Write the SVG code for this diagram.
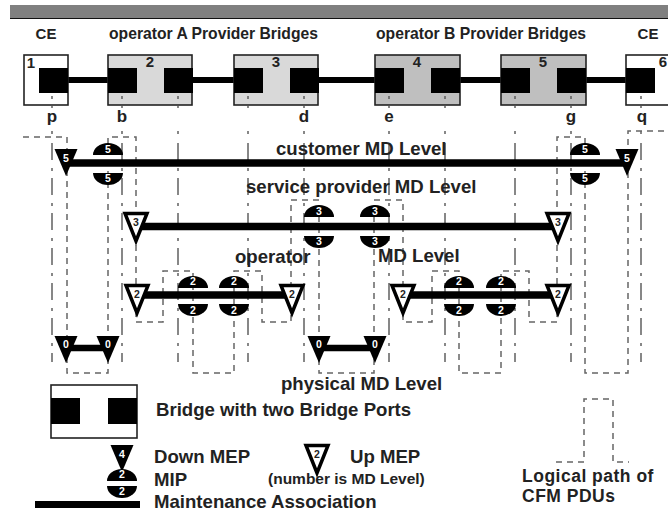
<svg xmlns="http://www.w3.org/2000/svg" width="668" height="512" viewBox="0 0 668 512">
<style>
text{font-family:"Liberation Sans",Arial,sans-serif;font-weight:bold;fill:#222}
.t{font-size:15.700px}
.l{font-size:18.600px}
.s{font-size:15.500px}
.k{font-size:17.500px;letter-spacing:.5px}
.p{font-size:17px;text-anchor:middle}
.c{font-size:15px;text-anchor:middle}
.n{font-size:10.500px;text-anchor:middle;fill:#fff}
.m{font-size:10.500px;text-anchor:middle;fill:#222}
.box{stroke:#222;stroke-width:1.6}
.w{fill:#fff}
.g1{fill:#d9d9d9}
.g2{fill:#bfbfbf}
.b{fill:#000}
.dash{fill:none;stroke:#666;stroke-width:1.5;stroke-dasharray:6 5}
.dd{fill:none;stroke:#555;stroke-width:1.4;stroke-dasharray:17 8 3 7}
.dot{fill:none;stroke:#555;stroke-width:1.4}
.ma{stroke:#000;fill:none}
.up{fill:#fff;stroke:#000;stroke-width:3.5;stroke-linejoin:miter}
</style>
<defs>
<path id="mu" d="M-15 0A15 12 0 0 1 15 0Z" fill="#000"/>
<path id="md" d="M-15 0A15 12 0 0 0 15 0Z" fill="#000"/>
<path id="dn" d="M-11.500 0H11.500L0 27Z" fill="#000"/>
<path id="un" d="M-11 1.500H11L0 29Z" class="up"/>
</defs>
<rect width="668" height="512" fill="#fff"/>
<rect x="10" y="5" width="658" height="13" fill="#808080"/>
<rect x="10" y="18" width="658" height="1" fill="#111"/>
<g id="connectors">
<path class="ma" stroke-width="6" d="M60 80H640"/>
<path class="dot" d="M52 106V108M52 131V134M122 106V108M122 131V134M178 106V108M178 131V134M248 106V108M248 131V134M304 106V108M304 131V134M389 106V108M389 131V134M445 106V108M445 131V134M515 106V108M515 131V134M571 106V108M571 131V134M641 106V108M641 131V134"/>
<path class="dd" d="M52 143V362M122 143V362M178 143V362M248 143V362M304 143V362M389 143V362M445 143V362M515 143V362M571 143V362M641 143V362"/>
<path class="dash" d="M23 137H67V373H108V137H136V322H163V271H193V373H234V271H262V322H291V200H319V373H374V200H403V322H432V271H459V373H501V271H529V322H557V137H585V373H628V131H668"/>
<path class="dash" d="M556 462H584V399H613V462H629"/>
<path class="ma" stroke-width="7.500" d="M66 163H627"/>
<path class="ma" stroke-width="7.500" d="M136 226.500H557"/>
<path class="ma" stroke-width="7.500" d="M137 295H292"/>
<path class="ma" stroke-width="7.500" d="M403 295H558"/>
<path class="ma" stroke-width="6.500" d="M66 348H108"/>
<path class="ma" stroke-width="6.500" d="M319 348H375"/>
<path class="ma" stroke-width="7" d="M35 504.500H140"/>
</g>
<g id="labels">
<text class="c" x="46" y="39">CE</text>
<text class="t" x="109" y="39">operator A Provider Bridges</text>
<text class="t" x="376" y="39">operator B Provider Bridges</text>
<text class="c" x="648" y="39">CE</text>
<text class="p" x="52" y="122">p</text>
<text class="p" x="122" y="122">b</text>
<text class="p" x="304" y="122">d</text>
<text class="p" x="389" y="122">e</text>
<text class="p" x="571" y="122">g</text>
<text class="p" x="642" y="122">q</text>
<text class="l" x="276" y="155">customer MD Level</text>
<text class="l" x="246" y="193">service provider MD Level</text>
<text class="l" x="235" y="263">operator</text>
<text class="l" x="378" y="262">MD Level</text>
<text class="l" x="281" y="390">physical MD Level</text>
<text class="l" x="156" y="416">Bridge with two Bridge Ports</text>
<text class="l" x="154" y="463">Down MEP</text>
<text class="l" x="350" y="463">Up MEP</text>
<text class="l" x="154" y="486">MIP</text>
<text class="s" x="268" y="484">(number is MD Level)</text>
<text class="l" x="154" y="508">Maintenance Association</text>
<text class="k" x="522" y="482">Logical path of</text>
<text class="k" x="522" y="502">CFM PDUs</text>
</g>
<g id="bridge1"><rect class="box w" x="24" y="55" width="44" height="50"/><rect class="b" x="39" y="68" width="29" height="25"/><path class="dot" d="M52 96V99"/><text class="c" x="31" y="68">1</text></g>
<g id="bridge2"><rect class="box g1" x="108" y="55" width="84" height="50"/><rect class="b" x="108" y="68" width="29" height="25"/><rect class="b" x="164" y="68" width="29" height="25"/><path class="dot" d="M122 96V99M178 96V99"/><text class="c" x="150" y="67">2</text></g>
<g id="bridge3"><rect class="box g1" x="234" y="55" width="84" height="50"/><rect class="b" x="234" y="68" width="29" height="25"/><rect class="b" x="290" y="68" width="29" height="25"/><path class="dot" d="M248 96V99M304 96V99"/><text class="c" x="276" y="67">3</text></g>
<g id="bridge4"><rect class="box g2" x="375" y="55" width="85" height="50"/><rect class="b" x="375" y="68" width="29" height="25"/><rect class="b" x="431" y="68" width="29" height="25"/><path class="dot" d="M389 96V99M445 96V99"/><text class="c" x="417" y="67">4</text></g>
<g id="bridge5"><rect class="box g2" x="501" y="55" width="85" height="50"/><rect class="b" x="501" y="68" width="29" height="25"/><rect class="b" x="557" y="68" width="29" height="25"/><path class="dot" d="M515 96V99M571 96V99"/><text class="c" x="543" y="67">5</text></g>
<g id="bridge6"><rect class="box w" x="626" y="55" width="50" height="50"/><rect class="b" x="626" y="68" width="29" height="25"/><path class="dot" d="M641 96V99"/><text class="c" x="663" y="67">6</text></g>

<g id="mep-5a"><use href="#dn" x="66" y="149"/><text class="n" x="66" y="162">5</text></g>
<g id="mep-5b"><use href="#dn" x="627" y="149"/><text class="n" x="627" y="162">5</text></g>
<g id="mip-5a"><use href="#mu" x="108" y="155"/><use href="#md" x="108" y="173"/><text class="n" x="108" y="153">5</text><text class="n" x="108" y="182">5</text></g>
<g id="mip-5b"><use href="#mu" x="585" y="155"/><use href="#md" x="585" y="173"/><text class="n" x="585" y="153">5</text><text class="n" x="585" y="182">5</text></g>

<g id="mep-3a"><use href="#un" x="136" y="212"/><text class="m" x="136" y="226">3</text></g>
<g id="mep-3b"><use href="#un" x="558" y="212"/><text class="m" x="558" y="226">3</text></g>
<g id="mip-3a"><use href="#mu" x="319" y="217"/><use href="#md" x="319" y="236"/><text class="n" x="319" y="215">3</text><text class="n" x="319" y="245">3</text></g>
<g id="mip-3b"><use href="#mu" x="375" y="217"/><use href="#md" x="375" y="236"/><text class="n" x="375" y="215">3</text><text class="n" x="375" y="245">3</text></g>

<g id="mep-2a"><use href="#un" x="137" y="284"/><text class="m" x="137" y="298">2</text></g>
<g id="mep-2b"><use href="#un" x="292" y="284"/><text class="m" x="292" y="298">2</text></g>
<g id="mep-2c"><use href="#un" x="403" y="284"/><text class="m" x="403" y="298">2</text></g>
<g id="mep-2d"><use href="#un" x="558" y="284"/><text class="m" x="558" y="298">2</text></g>
<g id="mip-2a"><use href="#mu" x="193" y="288"/><use href="#md" x="193" y="304"/><text class="n" x="193" y="285">2</text><text class="n" x="193" y="314">2</text></g>
<g id="mip-2b"><use href="#mu" x="234" y="288"/><use href="#md" x="234" y="304"/><text class="n" x="234" y="285">2</text><text class="n" x="234" y="314">2</text></g>
<g id="mip-2c"><use href="#mu" x="459" y="288"/><use href="#md" x="459" y="304"/><text class="n" x="459" y="285">2</text><text class="n" x="459" y="314">2</text></g>
<g id="mip-2d"><use href="#mu" x="501" y="288"/><use href="#md" x="501" y="304"/><text class="n" x="501" y="285">2</text><text class="n" x="501" y="314">2</text></g>

<g id="mep-0a"><use href="#dn" x="66" y="336"/><text class="n" x="66" y="348">0</text></g>
<g id="mep-0b"><use href="#dn" x="108" y="336"/><text class="n" x="108" y="348">0</text></g>
<g id="mep-0c"><use href="#dn" x="319" y="336"/><text class="n" x="319" y="348">0</text></g>
<g id="mep-0d"><use href="#dn" x="375" y="336"/><text class="n" x="375" y="348">0</text></g>

<g id="legend-bridge"><rect class="box w" x="51" y="385" width="86" height="53"/><rect class="b" x="51" y="398" width="29" height="26"/><rect class="b" x="108" y="398" width="29" height="26"/></g>
<g id="legend-down-mep"><use href="#dn" x="122" y="445"/><text class="n" x="122" y="458">4</text></g>
<g id="legend-mip"><use href="#mu" x="122" y="481"/><use href="#md" x="122" y="486"/><text class="n" x="122" y="478">2</text><text class="n" x="122" y="495">2</text></g>
<g id="legend-up-mep"><use href="#un" x="317" y="444"/><text class="m" x="317" y="458">2</text></g>
</svg>
